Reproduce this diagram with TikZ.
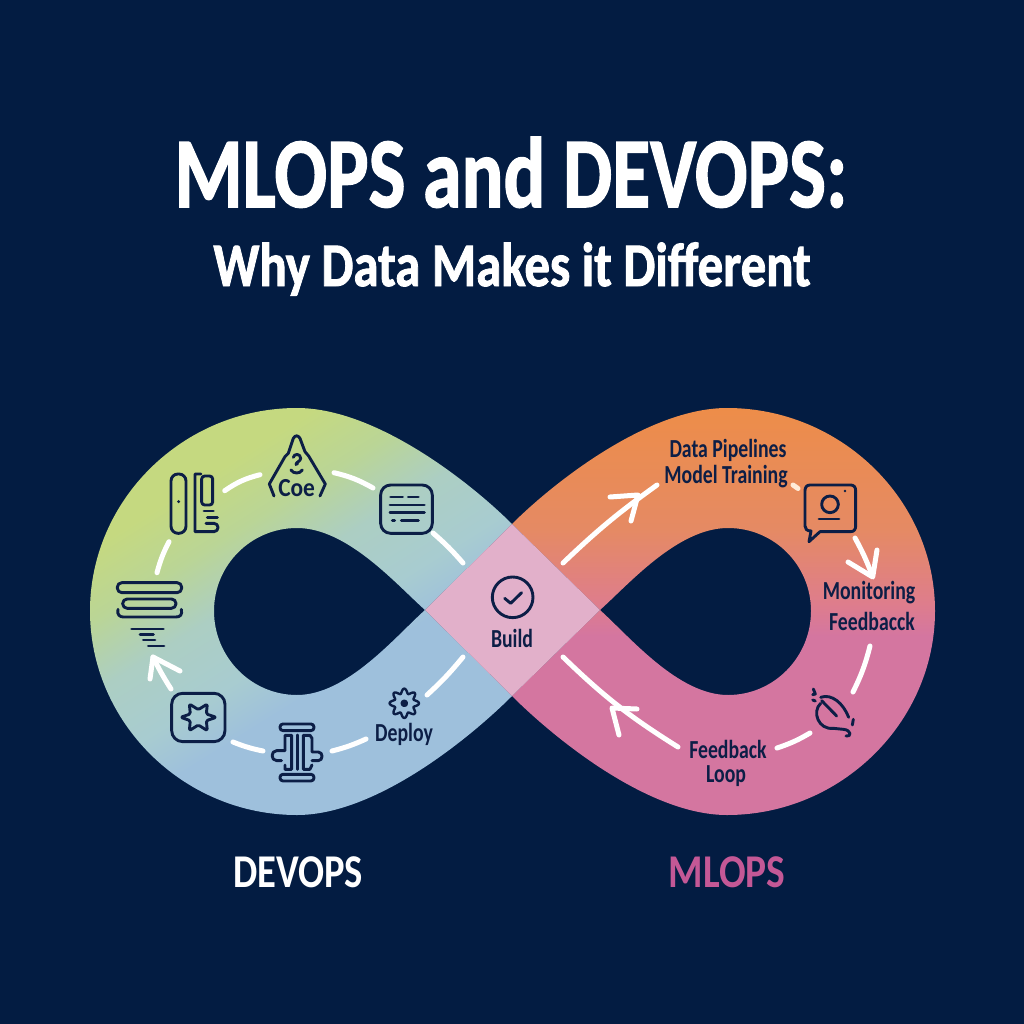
\documentclass[tikz,border=0pt]{standalone}
\usepackage{fontspec}
\setmainfont{Carlito}
\newfontfamily\ttlfont[BoldFeatures={FakeBold=1.6}]{Carlito}
\definecolor{bgc}{RGB}{3,28,66}
\definecolor{ink}{RGB}{12,30,70}
\definecolor{gA}{RGB}{197,217,128}
\definecolor{gB}{RGB}{186,213,150}
\definecolor{gC}{RGB}{172,206,195}
\definecolor{gE}{RGB}{168,204,208}
\definecolor{gD}{RGB}{158,192,220}
\definecolor{rA}{RGB}{237,141,73}
\definecolor{rB}{RGB}{229,138,100}
\definecolor{rC}{RGB}{222,125,140}
\definecolor{rD}{RGB}{212,118,160}
\definecolor{dia}{RGB}{226,176,202}
\definecolor{mlp}{RGB}{196,88,150}
\pgfdeclarehorizontalshading{leftg}{100bp}{color(0bp)=(gA);color(30bp)=(gA);color(37.5bp)=(gB);color(45bp)=(gC);color(53bp)=(gE);color(59bp)=(gD);color(100bp)=(gD)}
\pgfdeclareverticalshading{rightg}{100bp}{color(0bp)=(rD);color(47bp)=(rD);color(51bp)=(rC);color(60bp)=(rB);color(75bp)=(rA);color(100bp)=(rA)}
\tikzset{
 flow/.style={white,line width=5pt,line cap=round,line join=round},
 ico/.style={ink,line width=2.9pt,line cap=round,line join=round},
 lab/.style={ink,font=\fontsize{26}{26}\selectfont\bfseries,inner sep=0pt,xscale=.76},
}
\begin{document}
\begin{tikzpicture}[x=1pt,y=-1pt]
\useasboundingbox (0,0) rectangle (1024,1024);
\fill[bgc] (0,0) rectangle (1024,1024);
% left lobe
\shade[shading=leftg,shading angle=-58]
 (512,524) .. controls (472,484) and (377,408) .. (297,408)
 .. controls (183,408) and (90,500) .. (90,611)
 .. controls (90,722) and (183,815) .. (297,815)
 .. controls (377,815) and (472,736) .. (512,696)
 -- (425,610)
 .. controls (395,637) and (347,695) .. (297,695)
 .. controls (251,695) and (214,657) .. (214,611)
 .. controls (214,565) and (251,528) .. (297,528)
 .. controls (347,528) and (395,583) .. (425,610) -- cycle;
% right lobe
\shade[shading=rightg]
 (512,524) .. controls (552,484) and (647,408) .. (727,408)
 .. controls (841,408) and (935,500) .. (935,611)
 .. controls (935,722) and (841,815) .. (727,815)
 .. controls (647,815) and (552,736) .. (512,696)
 -- (600,610)
 .. controls (630,637) and (678,695) .. (728,695)
 .. controls (774,695) and (811,657) .. (811,611)
 .. controls (811,565) and (774,528) .. (728,528)
 .. controls (678,528) and (630,583) .. (600,610) -- cycle;
\fill[dia] (512,524) -- (600,610) -- (512,696) -- (425,610) -- cycle;
% titles
\node[white,font=\ttlfont\fontsize{100}{100}\selectfont\bfseries,inner sep=0pt,anchor=base,xscale=.78] (title) at (511,207) {MLOPS and DEVOPS:};
\node[white,font=\ttlfont\fontsize{62}{62}\selectfont\bfseries,inner sep=0pt,anchor=base,xscale=.82] (sub) at (512,286) {Why Data Makes it Different};
\node[white,font=\fontsize{47}{47}\selectfont\bfseries,inner sep=0pt,anchor=base,xscale=.82] (dv) at (298,887) {DEVOPS};
\node[mlp,font=\fontsize{47}{47}\selectfont\bfseries,inner sep=0pt,anchor=base,xscale=.84] (ml) at (727,887) {MLOPS};
% labels
\node[lab] (l1) at (728,450) {Data Pipelines};
\node[lab] (l2) at (726,477) {Model Training};
\node[lab] (l3) at (869,593) {Monitoring};
\node[lab] (l4) at (872,621) {Feedbacck};
\node[lab] (l5) at (728,749) {Feedback};
\node[lab] (l6) at (726,776) {Loop};
\node[lab] (l7) at (512,638) {Build};
\node[lab] (l8) at (404,734) {Deploy};
% connectors
\coordinate (a1) at (224.7,490.7); \coordinate (a2) at (260,474.7);
\coordinate (a3) at (334,472.7);   \coordinate (a4) at (373,488);
\coordinate (a5) at (433,533);     \coordinate (a6) at (463,563);
\coordinate (a7) at (169,541.7);   \coordinate (a8) at (157,572.7);
\coordinate (a9) at (171,689);     \coordinate (a10) at (153,657);
\coordinate (a11) at (263,751);    \coordinate (a12) at (233,742);
\coordinate (a13) at (366,739);    \coordinate (a14) at (332,751);
\coordinate (a15) at (463,657);    \coordinate (a16) at (427,695);
\coordinate (b1) at (563,563);     \coordinate (b2) at (657,485);
\coordinate (b3) at (793,485);     \coordinate (b4) at (798,488.5);
\coordinate (b5) at (855,538);     \coordinate (b6) at (872,575);
\coordinate (b7) at (870,646);     \coordinate (b8) at (853,692);
\coordinate (b9) at (810,733);     \coordinate (b10) at (777,748);
\coordinate (b11) at (678,747);    \coordinate (b12) at (563,657);
\draw[flow] (a1) to[bend left=10] (a2);
\draw[flow] (a3) to[bend left=8] (a4);
\draw[flow] (a5) to[bend left=4] (a6);
\draw[flow] (a8) to[bend left=6] (a7);
\draw[flow] (a9) to[bend left=3] (a10);
\draw[flow] (150,679) -- (a10) -- (180,671);
\draw[flow] (a12) to[bend right=5] (a11);
\draw[flow] (a14) to[bend right=5] (a13);
\draw[flow] (a16) to[bend right=4] (a15);
\draw[flow] (b1) to[bend left=4] (b2);
\draw[flow] (610,497) -- (638,495) -- (631,521);
\draw[flow,white!85!orange] (b3) -- (b4);
\draw[flow] (b5) to[bend left=4] (b6);
\draw[flow] (848,562) -- (872.7,577) -- (877,550);
\draw[flow] (b7) to[bend left=6] (b8);
\draw[flow] (b9) to[bend left=6] (b10);
\draw[flow] (b11) to[bend left=6] (b12);
\draw[flow] (637,709) -- (612,708) -- (619,735);
% icons left (zoom coordinates)
\begin{scope}[shift={(90,400)},x=.3333pt,y=-.3333pt]
 % door + book
 \draw[ico,rounded corners=7pt] (243,222) rectangle (288,400);
 \fill[ink] (266,305) circle (5);
 \draw[ico] (333,222) -- (315,222) -- (315,395) -- (372,395) .. controls (388,395) and (388,370) .. (372,370) -- (348,370);
 \draw[ico,rounded corners=3pt] (335,228) rectangle (368,315);
 \draw[ico] (342,333) -- (370,333) (352,352) -- (382,352);
 % stack
 \draw[ico,rounded corners=4.5pt] (82,548) rectangle (275,578);
 \draw[ico,rounded corners=4.5pt] (98,597) rectangle (258,625);
 \draw[ico] (84,628) .. controls (80,645) and (90,651) .. (100,651) -- (258,651) .. controls (270,651) and (278,645) .. (274,628);
 \draw[ico] (125,687) -- (220,687) (150,703) -- (190,703) (160,720) -- (195,720) (175,738) -- (222,738);
 % coe
 \draw[ico] (552,288) -- (538,252) -- (585,170) -- (595,160) -- (610,115) .. controls (616,105) and (624,105) .. (630,115) -- (645,155) -- (656,168) -- (706,252) -- (690,288);
 \draw[ico] (610,172) .. controls (612,160) and (632,160) .. (632,175) .. controls (632,185) and (618,185) .. (618,194) (618,192) -- (622,192);
 \draw[ico] (603,210) .. controls (610,222) and (630,222) .. (637,210);
 \node[ink,font=\fontsize{26}{26}\selectfont\bfseries,inner sep=0pt,xscale=.9] (coe) at (620,265) {Coe};
 % doc
 \draw[ico,rounded corners=10pt] (872,255) rectangle (1027,400);
 \draw[ico] (902,291) -- (938,291) (955,291) -- (985,291) (900,315) -- (1003,315) (900,338) -- (1003,338) (907,362) -- (914,362) (934,362) -- (985,362);
 % star card
 \draw[ico,rounded corners=11pt] (245,880) rectangle (405,1025);
 \draw[ico,rounded corners=1.5pt] (379,952) -- (349,962) -- (352,992) -- (325,975) -- (298,992) -- (301,962) -- (272,952) -- (301,942) -- (298,912) -- (325,929) -- (352,912) -- (349,942) -- cycle;
 % pillar
 \draw[ico,rounded corners=3pt] (570,972) rectangle (672,992);
 \draw[ico,rounded corners=3pt] (570,1123) rectangle (672,1143);
 \draw[ico] (622,1005) -- (622,1108);
 \draw[ico] (605,1006) -- (585,1006) -- (585,1052) -- (560,1052) .. controls (542,1052) and (542,1082) .. (560,1082) -- (575,1082) (585,1095) -- (585,1108) -- (605,1108) -- (605,1006);
 \draw[ico] (640,1006) -- (660,1006) -- (666,1015) -- (666,1056) -- (685,1056) .. controls (700,1056) and (700,1082) .. (685,1082) -- (666,1082) (666,1095) -- (660,1108) -- (640,1108) -- (640,1006);
 % gear
 \draw[ico,line width=2.4pt] plot[domain=0:360,samples=121] ({943+(37+7*cos(8*\x))*cos(\x)},{910+(37+7*cos(8*\x))*sin(\x)}) -- cycle;
 \draw[ico,fill=ink] (943,910) circle (7);
\end{scope}
% icons right
\begin{scope}[shift={(420,400)},x=.3333pt,y=-.3333pt]
 \draw[ico] (278,592) circle (61);
 \draw[ico] (254,595) -- (272,610) -- (305,578);
\end{scope}
\begin{scope}[shift={(790,470)},x=.3333pt,y=-.3333pt]
 \draw[ico] (60,45) -- (182,45) .. controls (192,45) and (197,52) .. (197,62) -- (197,168) .. controls (197,178) and (192,185) .. (182,185) -- (90,185) -- (57,215) -- (63,183) .. controls (50,183) and (45,176) .. (45,168) -- (45,62) .. controls (45,52) and (50,45) .. (60,45) -- cycle;
 \draw[ico] (120,103) circle (25);
 \draw[ico] (87,147) -- (147,147);
 \fill[ink] (165,63) circle (4);
\end{scope}
\begin{scope}[shift={(790,680)},x=.3333pt,y=-.3333pt]
 \draw[ico] (92,52) .. controls (125,40) and (160,70) .. (176,112);
 \draw[ico] (92,70) .. controls (65,95) and (85,150) .. (130,145) -- (160,148) .. controls (185,150) and (185,172) .. (168,168);
 \draw[ico] (95,62) -- (140,108);
 \draw[ico] (190,118) -- (187,135);
 \draw[ico] (70,27) -- (76,42) -- (68,44) (68,60) -- (76,63);
\end{scope}
\end{tikzpicture}
\end{document}
